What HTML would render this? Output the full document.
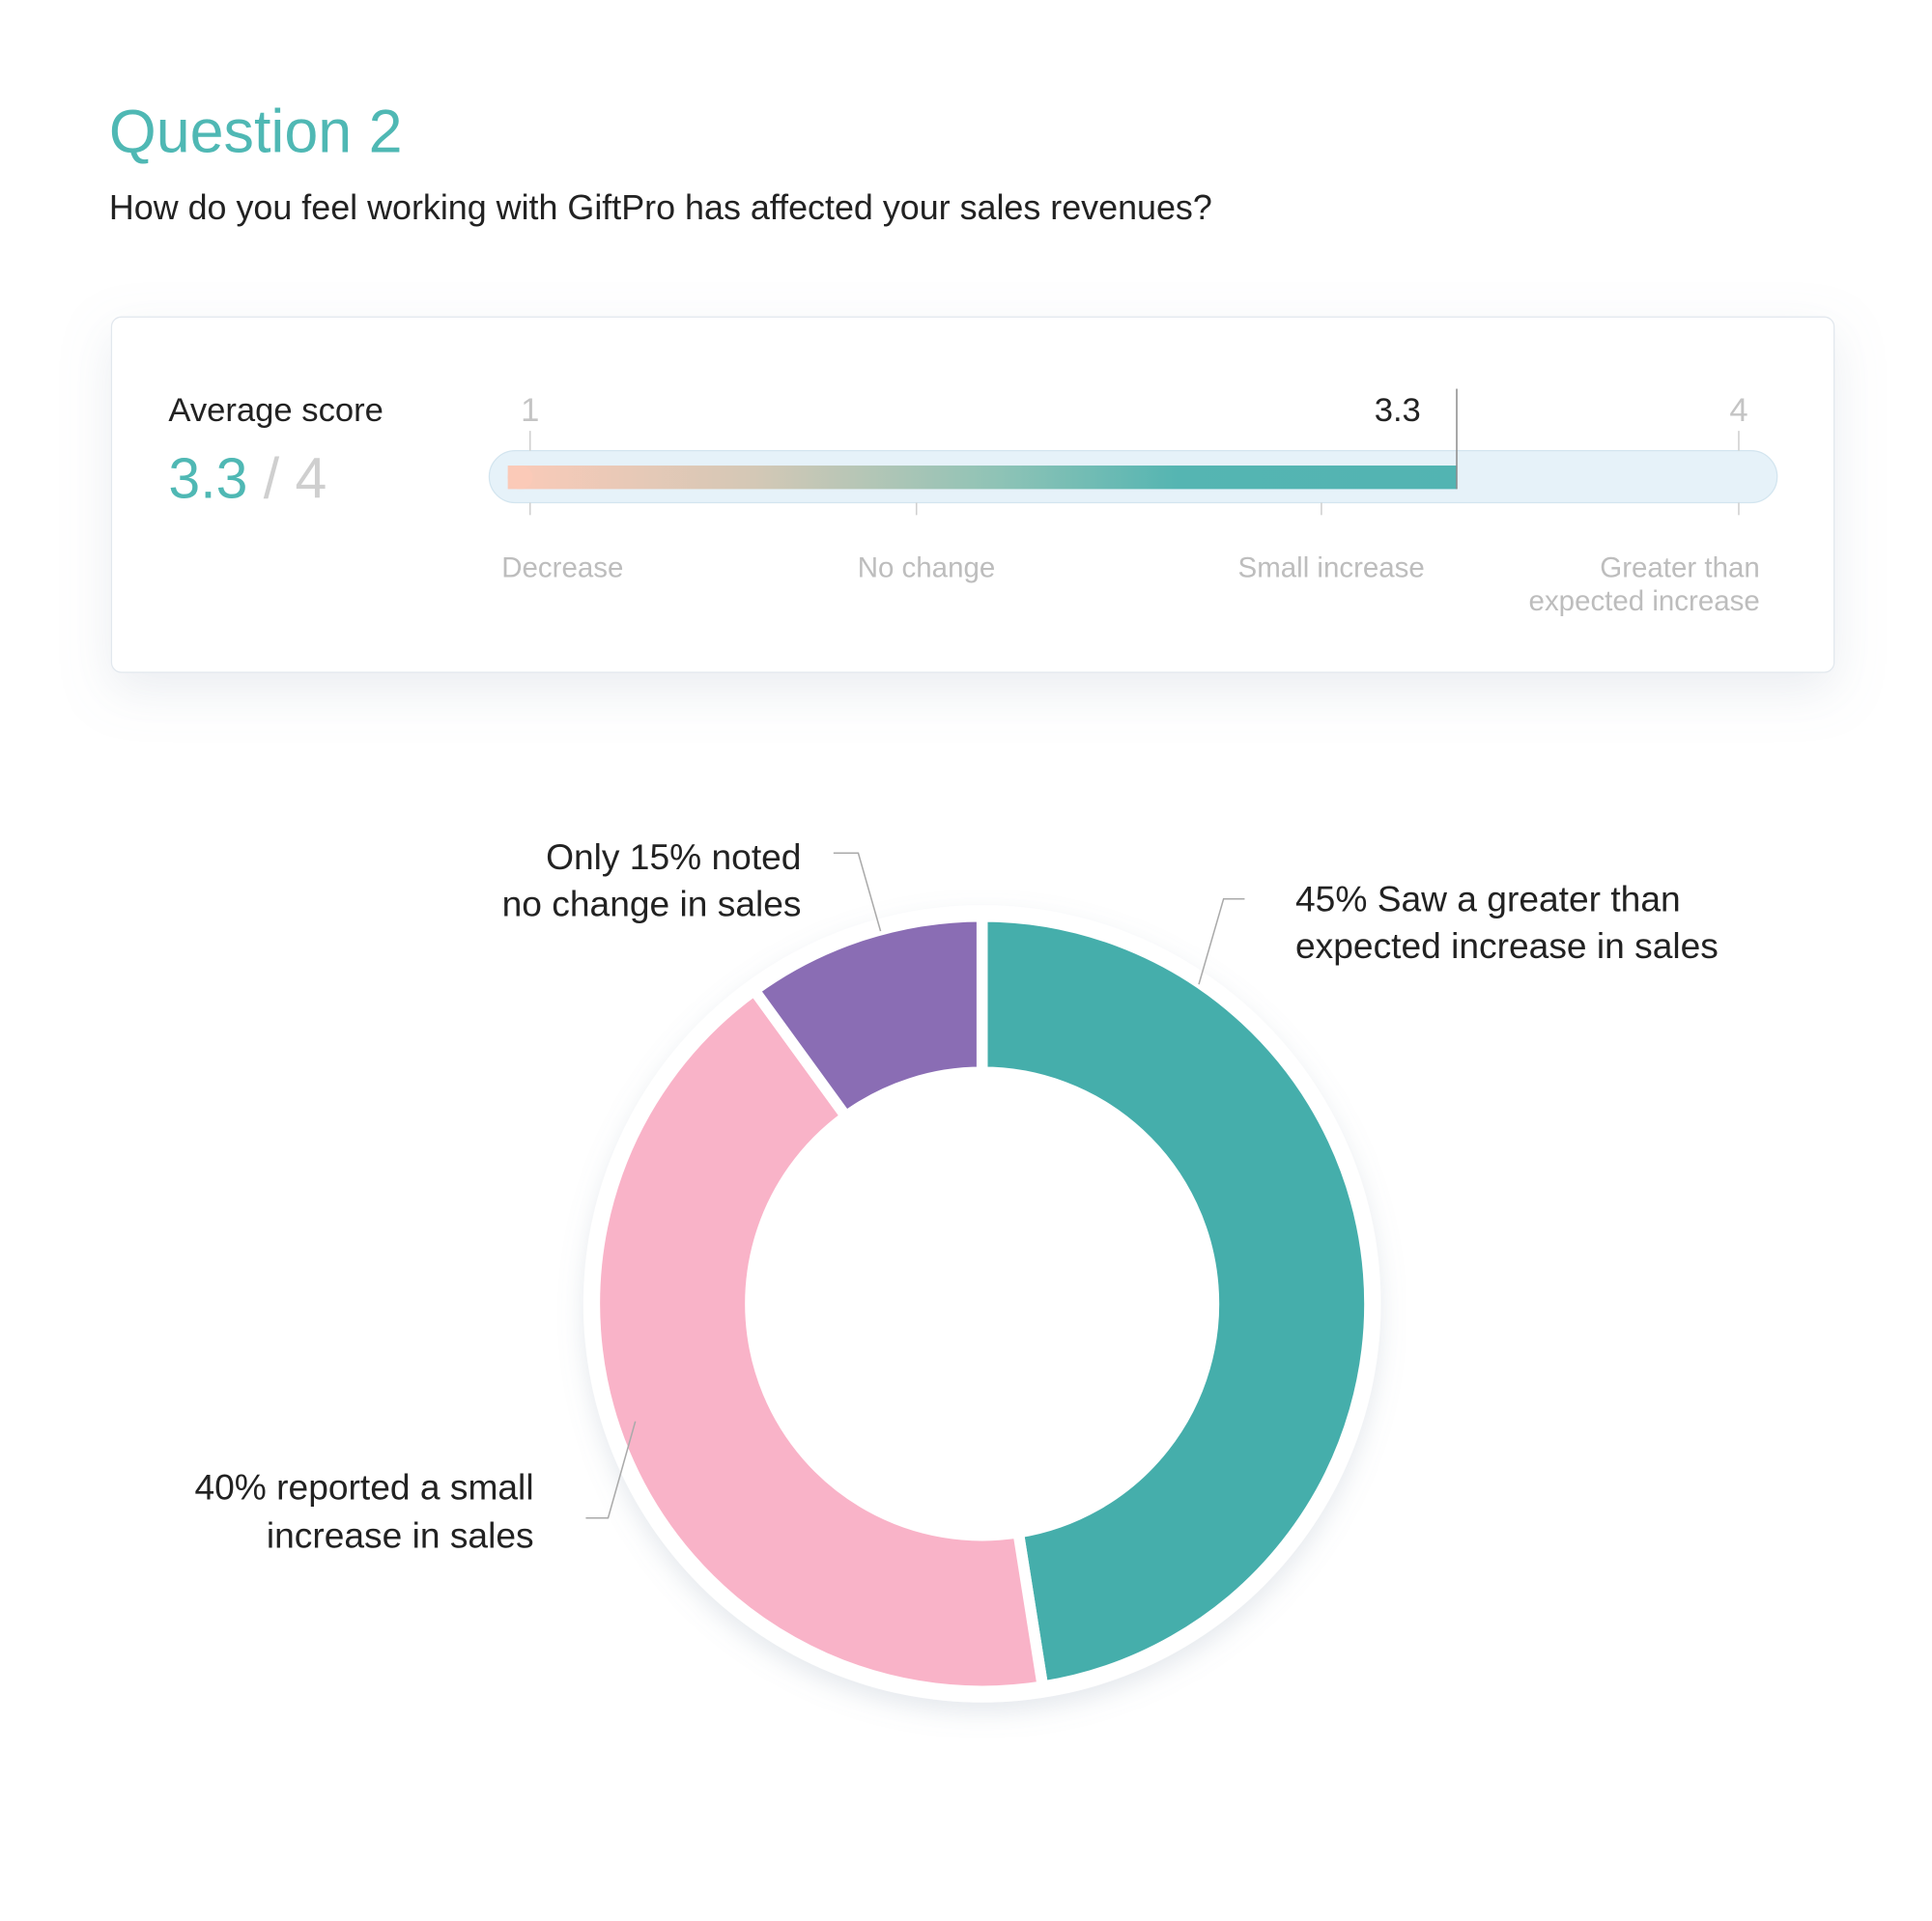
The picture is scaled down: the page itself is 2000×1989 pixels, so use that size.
<!DOCTYPE html>
<html><head><meta charset="utf-8"><style>
html,body{margin:0;padding:0;background:#fff;}
svg{display:block;}
text{font-family:"Liberation Sans",sans-serif;}
</style></head><body>
<svg id="chart" width="2000" height="1989" viewBox="0 0 1560 1551.5" xmlns="http://www.w3.org/2000/svg">
<defs>
<filter id="cardShadow" x="-10%" y="-30%" width="120%" height="160%"><feDropShadow dx="0" dy="14" stdDeviation="20" flood-color="#8a9bb0" flood-opacity="0.18"/></filter>
<filter id="donutShadow" x="-20%" y="-20%" width="140%" height="140%"><feDropShadow dx="0" dy="8" stdDeviation="10" flood-color="#8a9bb0" flood-opacity="0.22"/></filter>
<linearGradient id="barGrad" x1="410" x2="1205" y1="0" y2="0" gradientUnits="userSpaceOnUse">
<stop offset="0" stop-color="#fbcab8"/><stop offset="0.25" stop-color="#d4c8b6"/><stop offset="0.5" stop-color="#8ec3b6"/><stop offset="0.68" stop-color="#55b5b2"/><stop offset="1" stop-color="#52b4b2"/>
</linearGradient>
</defs>
<text x="88" y="123" font-size="49" fill="#4fb8b4">Question 2</text>
<text x="88" y="177" font-size="28" fill="#222">How do you feel working with GiftPro has affected your sales revenues?</text>

<g>
<rect x="90" y="256" width="1391" height="287" rx="8" fill="#fff" stroke="#e2e8ee" filter="url(#cardShadow)"/>
<text x="136" y="340" font-size="27" fill="#222">Average score</text>
<text x="136" y="402" font-size="46" fill="#4fb8b4">3.3 <tspan fill="#cfcfcf">/ 4</tspan></text>
<g id="scale"></g>
</g>

<g id="donut">
<circle cx="793" cy="1053" r="322" fill="#fff" filter="url(#donutShadow)"/>
</g>

<g fill="#222" font-size="29">
<polyline points="673,689 693,689 711,752" fill="none" stroke="#aaa" stroke-width="1.2"/>
<polyline points="1005,726 988,726 968,795" fill="none" stroke="#aaa" stroke-width="1.2"/>
<polyline points="473,1226 491,1226 513,1148" fill="none" stroke="#aaa" stroke-width="1.2"/>
<text text-anchor="end" x="647" y="702">Only 15% noted</text>
<text text-anchor="end" x="647" y="740">no change in sales</text>
<text x="1046" y="736">45% Saw a greater than</text>
<text x="1046" y="774">expected increase in sales</text>
<text text-anchor="end" x="431" y="1211">40% reported a small</text>
<text text-anchor="end" x="431" y="1250">increase in sales</text>
</g>
</svg>
<script>
const NS = "http://www.w3.org/2000/svg";
const scaleMin = 1;
const scaleMax = 4;
const scoreValue = 3.3;
const tickValues = [1, 2, 3, 4];
const categoryLabels = ["Decrease", "No change", "Small increase", "Greater than|expected increase"];
const sliceNames = ["greater-than-expected", "small-increase", "no-change"];
const sliceShares = [47.5, 42.5, 10];
const sliceColors = ["#45aeab", "#f9b3c8", "#8a6db4"];

function mk(tag, attrs, parent) {
  const el = document.createElementNS(NS, tag);
  for (const k in attrs) el.setAttribute(k, attrs[k]);
  parent.appendChild(el);
  return el;
}
// scale
const sx = v => 428 + (v - scaleMin) / (scaleMax - scaleMin) * (1404 - 428);
const tickXs = [428, 740, 1067, 1404];
const g = document.getElementById('scale');
const track = mk('rect', {x:395, y:364, width:1040, height:42, rx:21, fill:'#e6f2f9', stroke:'#d3e5ef'}, g);


const fill = mk('rect', {x:410, y:376, width:Math.max(0, sx(scoreValue) - 410), height:19, rx:0, fill:'url(#barGrad)'}, g);


mk('rect', {x:410, y:376, width:20, height:19, rx:9.5, fill:'#fbcab8'}, g);
tickValues.forEach((t, i) => {
  const x = tickXs[i];
  const tk = mk('line', {x1:x, x2:x, y1:406, y2:416, stroke:'#cfcfcf', 'stroke-width':1.2}, g);
  
  
  const lines = categoryLabels[i].split('|');
  lines.forEach((ln, j) => {
    const anchor = i === 0 ? 'start' : (i === 3 ? 'end' : 'middle');
    const lx = i === 0 ? 405 : (i === 3 ? 1421 : x + 8);
    const tx = mk('text', {x:lx, y:466 + j * 27, 'font-size':23, fill:'#bdbdbd', 'text-anchor':anchor}, g);
    tx.textContent = ln;
    
    
  });
});
[scaleMin, scaleMax].forEach(v => {
  const x = sx(v);
  mk('line', {x1:x, x2:x, y1:348, y2:364, stroke:'#cfcfcf', 'stroke-width':1.2}, g);
  const t = mk('text', {x:x, y:340, 'font-size':27, fill:'#c4c4c4', 'text-anchor':'middle'}, g);
  t.textContent = String(v);
  
  
});
const mx = sx(scoreValue);
const marker = mk('line', {x1:mx, x2:mx, y1:314, y2:395, stroke:'#8c8c8c', 'stroke-width':1.2}, g);


const ml = mk('text', {x:mx - 29, y:340, 'font-size':27, fill:'#222', 'text-anchor':'end'}, g);
ml.textContent = String(scoreValue);



// donut
const d = document.getElementById('donut');
const cx = 793, cy = 1053, R = 313, r = 187;
const total = sliceShares.reduce((a, b) => a + b, 0);
const pt = (rad, a) => [cx + rad * Math.sin(a), cy - rad * Math.cos(a)];
let acc = 0;
sliceShares.forEach((v, i) => {
  const a0 = acc / total * 2 * Math.PI, a1 = (acc + v) / total * 2 * Math.PI;
  acc += v;
  const large = (a1 - a0) > Math.PI ? 1 : 0;
  const p0 = pt(R, a0), p1 = pt(R, a1), p2 = pt(r, a1), p3 = pt(r, a0);
  const path = mk('path', {d:`M${p0[0]},${p0[1]} A${R},${R} 0 ${large} 1 ${p1[0]},${p1[1]} L${p2[0]},${p2[1]} A${r},${r} 0 ${large} 0 ${p3[0]},${p3[1]} Z`, fill:sliceColors[i], stroke:'#fff', 'stroke-width':9, 'stroke-linejoin':'miter'}, d);
  
  
});
</script>
</body></html>
